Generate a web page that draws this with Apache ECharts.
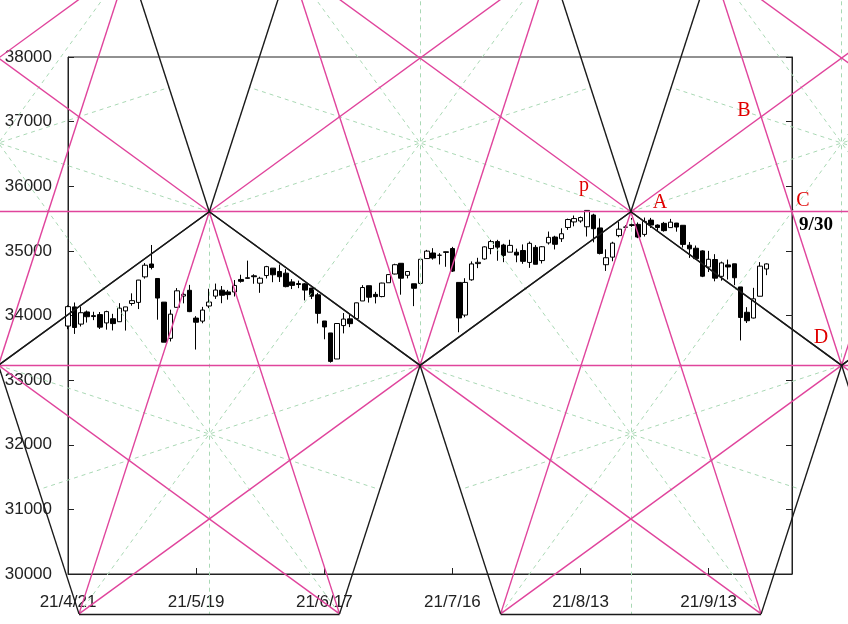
<!DOCTYPE html>
<html>
<head>
<meta charset="utf-8">
<script src="https://cdn.jsdelivr.net/npm/echarts@6/dist/echarts.min.js"></script>
<style>
  html, body { margin: 0; padding: 0; background: #fff; }
  #main { width: 848px; height: 624px; }
</style>
</head>
<body>
<div id="main"></div>
<script>
// trading days, 21/4/21 .. 21/9/24
var dates = [
  "21/4/21","21/4/22","21/4/23","21/4/26","21/4/27","21/4/28","21/4/29","21/4/30",
  "21/5/3","21/5/4","21/5/5","21/5/6","21/5/7","21/5/10","21/5/11","21/5/12","21/5/13","21/5/14",
  "21/5/17","21/5/18","21/5/19","21/5/20","21/5/21","21/5/24","21/5/25","21/5/26","21/5/27","21/5/28",
  "21/6/1","21/6/2","21/6/3","21/6/4","21/6/7","21/6/8","21/6/9","21/6/10","21/6/11",
  "21/6/14","21/6/15","21/6/16","21/6/17","21/6/18","21/6/21","21/6/22","21/6/23","21/6/24","21/6/25",
  "21/6/28","21/6/29","21/6/30",
  "21/7/1","21/7/2","21/7/6","21/7/7","21/7/8","21/7/9","21/7/12","21/7/13","21/7/14","21/7/15","21/7/16",
  "21/7/19","21/7/20","21/7/21","21/7/22","21/7/23","21/7/26","21/7/27","21/7/28","21/7/29","21/7/30",
  "21/8/2","21/8/3","21/8/4","21/8/5","21/8/6","21/8/9","21/8/10","21/8/11","21/8/12","21/8/13",
  "21/8/16","21/8/17","21/8/18","21/8/19","21/8/20","21/8/23","21/8/24","21/8/25","21/8/26","21/8/27",
  "21/8/30","21/8/31",
  "21/9/1","21/9/2","21/9/3","21/9/7","21/9/8","21/9/9","21/9/10","21/9/13","21/9/14","21/9/15",
  "21/9/16","21/9/17","21/9/20","21/9/21","21/9/22","21/9/23","21/9/24"
];
var opens = [
  33837,34133,33867,34055,33998,34014,33885,33950,
  33904,34071,34186,34203,34598,34797,34573,34207,33647,34126,
  34301,34390,33960,33913,34147,34300,34392,34365,34364,34558,
  34584,34614,34500,34618,34733,34681,34655,34520,34494,
  34490,34424,34320,33915,33730,33327,33844,33948,33951,34225,
  34461,34327,34293,
  34507,34642,34808,34622,34491,34497,34881,34967,34932,34976,35036,
  34512,34007,34552,34803,34875,35036,35144,35091,34980,34979,
  35006,34821,35054,34850,35124,35214,35188,35362,35448,35463,
  35373,35555,35355,34786,34903,35236,35368,35393,35410,35255,
  35476,35399,
  35426,35360,35430,35396,35088,35041,35000,34750,34866,34606,
  34783,34800,34442,34050,33961,34298,34720
];
var highs = [
  34158,34201,34140,34077,34058,34054,34074,34026,
  34191,34134,34343,34551,34811,35091,34573,34207,34090,34424,
  34392,34474,33990,34133,34414,34494,34456,34396,34549,34631,
  34849,34638,34600,34768,34733,34789,34718,34563,34540,
  34503,34427,34350,33915,33730,33878,34038,34017,34199,34470,
  34462,34366,34507,
  34640,34801,34810,34685,34491,34890,35015,35042,34965,34985,35062,
  34512,34577,34837,34893,35071,35171,35171,35110,35172,35035,
  35100,35144,35089,35074,35299,35234,35349,35499,35547,35531,
  35631,35574,35502,35024,35141,35449,35398,35510,35440,35516,
  35510,35410,
  35448,35495,35433,35396,35137,35083,35010,35000,34949,34834,
  34865,34800,34442,34129,34428,34826,34806
];
var lows = [
  33788,33715,33830,33891,33928,33791,33781,33769,
  33904,33767,34152,34100,34571,34713,33935,33587,33598,34125,
  34188,34052,33473,33880,34114,34257,34190,34245,34294,34508,
  34568,34491,34351,34573,34515,34519,34436,34409,34423,
  34234,34254,33876,33632,33271,33327,33723,33820,33951,34225,
  34200,34187,34282,
  34507,34636,34322,34574,34145,34497,34881,34864,34790,34754,34673,
  33741,33973,34538,34733,34862,34948,34847,34825,34980,34824,
  34800,34737,34794,34805,35098,35022,35138,35325,35380,35435,
  35222,35132,34945,34690,34839,35211,35320,35372,35197,35222,
  35355,35296,
  35297,35360,35297,35051,34891,34869,34594,34673,34529,34539,
  34557,34469,33614,33884,33955,34298,34624
];
var closes = [
  34137,33815,34043,33981,33984,33820,34060,33875,
  34113,34133,34230,34548,34778,34743,34270,33587,34021,34382,
  34327,34060,33896,34084,34208,34394,34313,34323,34465,34529,
  34575,34600,34577,34756,34630,34600,34447,34466,34480,
  34393,34299,34033,33823,33290,33876,33945,33874,34196,34433,
  34283,34292,34502,
  34633,34786,34577,34681,34421,34870,34996,34889,34933,34987,34687,
  33962,34512,34798,34823,35062,35144,35058,34930,35085,34935,
  34838,35117,34793,35064,35209,35102,35265,35485,35500,35516,
  35626,35343,34961,34894,35120,35336,35367,35406,35214,35456,
  35400,35361,
  35313,35444,35369,35100,35031,34879,34608,34870,34578,34814,
  34751,34584,33970,33919,34258,34764,34798
];

// axes
var xMin = 0, xMax = 113, xStep = 20;
var yMin = 30000, yMax = 38000, yStep = 1000;

// pentagram lattice (day index / price)
var apexIndex = 22.05;   // first upper apex
var halfSpan = 32.9;     // apex -> valley distance in days
var apexPrice = 35606;   // upper horizontal
var basePrice = 33229;   // lower horizontal

var PHI = (1 + Math.sqrt(5)) / 2;
var gap = apexPrice - basePrice;
var footPrice = apexPrice - PHI * PHI * gap;
var crownPrice = basePrice + PHI * PHI * gap;
var foot = halfSpan / PHI;

var blackSegs = [], pinkSegs = [], greenSegs = [];
function addPentagon(v) {
  for (var i = 0; i < 5; i++) {
    blackSegs.push({ coords: [v[i], v[(i + 1) % 5]] });
    pinkSegs.push({ coords: [v[i], v[(i + 2) % 5]] });
    var a = v[(i + 2) % 5], b = v[(i + 3) % 5];
    greenSegs.push({ coords: [v[i], [(a[0] + b[0]) / 2, (a[1] + b[1]) / 2]] });
  }
}
// upright pentagons (apex on top)
for (var k = -1; k <= 2; k++) {
  var c = apexIndex + 2 * k * halfSpan;
  addPentagon([[c, apexPrice], [c + halfSpan, basePrice], [c + foot, footPrice],
               [c - foot, footPrice], [c - halfSpan, basePrice]]);
}
// inverted pentagons (apex at bottom)
for (var k = -1; k <= 1; k++) {
  var c = apexIndex + (2 * k + 1) * halfSpan;
  addPentagon([[c, basePrice], [c + halfSpan, apexPrice], [c + foot, crownPrice],
               [c - foot, crownPrice], [c - halfSpan, apexPrice]]);
}

var candles = [];
for (var i = 0; i < dates.length; i++) {
  candles.push([i, opens[i], closes[i], lows[i], highs[i]]);
}

var chart = echarts.init(document.getElementById("main"));
var axisFont = { fontFamily: "Liberation Sans", fontSize: 17, color: "#222" };
var labelFont = '20px "Liberation Serif"';

var option = {
  animation: false,
  grid: {
    left: 68, top: 57, width: 724, height: 517,
    outerBoundsMode: "none",
    containLabel: false,
    show: true, borderColor: "#222", borderWidth: 1
  },
  xAxis: {
    type: "value",
    min: xMin, max: xMax, interval: xStep,
    axisLine: { show: true, lineStyle: { color: "#222" } },
    axisTick: { show: true, inside: true, length: 6, lineStyle: { color: "#222" } },
    axisLabel: Object.assign({
      margin: 20,
      showMaxLabel: false,
      formatter: function (v) {
        return v % xStep === 0 && dates[v] ? dates[v] : "";
      }
    }, axisFont),
    splitLine: { show: false }
  },
  yAxis: [
    {
      type: "value", position: "left",
      min: yMin, max: yMax, interval: yStep,
      axisLine: { show: true, lineStyle: { color: "#222" } },
      axisTick: { show: true, inside: true, length: 6, lineStyle: { color: "#222" } },
      axisLabel: Object.assign({
        margin: 16,
        formatter: function (v) { return String(v); }
      }, axisFont),
      splitLine: { show: false }
    },
    {
      type: "value", position: "right",
      min: yMin, max: yMax, interval: yStep,
      axisLine: { show: true, lineStyle: { color: "#222" } },
      axisTick: { show: true, inside: true, length: 6, lineStyle: { color: "#222" } },
      axisLabel: { show: false },
      splitLine: { show: false }
    }
  ],
  series: [
    {
      type: "candlestick",
      data: candles,
      encode: { x: 0, y: [1, 2, 3, 4] },
      barWidth: 5,
      itemStyle: {
        color: "#fff", color0: "#000",
        borderColor: "#000", borderColor0: "#000", borderWidth: 1
      },
      z: 2
    },
    {
      type: "lines", coordinateSystem: "cartesian2d",
      clip: false, silent: true, z: 3,
      lineStyle: { color: "#a9d8b4", width: 1, type: [4, 4], opacity: 1 },
      data: greenSegs
    },
    {
      type: "lines", coordinateSystem: "cartesian2d",
      clip: false, silent: true, z: 4,
      lineStyle: { color: "#e0449c", width: 1.4, opacity: 1 },
      data: pinkSegs
    },
    {
      type: "lines", coordinateSystem: "cartesian2d",
      clip: false, silent: true, z: 5,
      lineStyle: { color: "#1a1a1a", width: 1.4, opacity: 1 },
      data: blackSegs
    }
  ],
  graphic: [
    { type: "text", x: 584, y: 186, z: 10, style: { text: "p", font: labelFont, fill: "#e00000", align: "center", verticalAlign: "middle" } },
    { type: "text", x: 660, y: 203, z: 10, style: { text: "A", font: labelFont, fill: "#e00000", align: "center", verticalAlign: "middle" } },
    { type: "text", x: 744, y: 111, z: 10, style: { text: "B", font: labelFont, fill: "#e00000", align: "center", verticalAlign: "middle" } },
    { type: "text", x: 803, y: 201, z: 10, style: { text: "C", font: labelFont, fill: "#e00000", align: "center", verticalAlign: "middle" } },
    { type: "text", x: 816, y: 225, z: 10, style: { text: "9/30", font: 'bold 19px "Liberation Serif"', fill: "#000", align: "center", verticalAlign: "middle" } },
    { type: "text", x: 821, y: 338, z: 10, style: { text: "D", font: labelFont, fill: "#e00000", align: "center", verticalAlign: "middle" } }
  ]
};

chart.setOption(option);
window.addEventListener("resize", function () {
  chart.resize();
});
</script>
</body>
</html>
